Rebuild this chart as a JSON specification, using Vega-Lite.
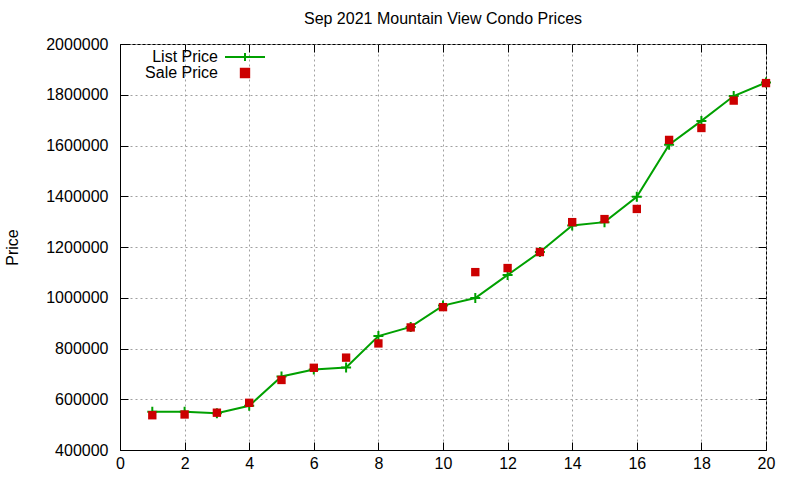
{
  "$schema": "https://vega.github.io/schema/vega-lite/v6.json",
  "description": "Sep 2021 Mountain View condo list and sale prices.",
  "width": 646,
  "height": 406,
  "autosize": "none",
  "padding": {"left": 120, "top": 44, "right": 34, "bottom": 30},
  "title": {
    "text": "Sep 2021 Mountain View Condo Prices",
    "font": "Liberation Sans",
    "fontSize": 16,
    "fontWeight": "normal",
    "color": "#000000",
    "anchor": "middle",
    "offset": 9
  },
  "data": {
    "values": [
      {"n": 1, "series": "List Price", "price": 551000},
      {"n": 2, "series": "List Price", "price": 551000},
      {"n": 3, "series": "List Price", "price": 545000},
      {"n": 4, "series": "List Price", "price": 574000},
      {"n": 5, "series": "List Price", "price": 690000},
      {"n": 6, "series": "List Price", "price": 717000},
      {"n": 7, "series": "List Price", "price": 725000},
      {"n": 8, "series": "List Price", "price": 849000},
      {"n": 9, "series": "List Price", "price": 885000},
      {"n": 10, "series": "List Price", "price": 969000},
      {"n": 11, "series": "List Price", "price": 999000},
      {"n": 12, "series": "List Price", "price": 1090000},
      {"n": 13, "series": "List Price", "price": 1180000},
      {"n": 14, "series": "List Price", "price": 1285000},
      {"n": 15, "series": "List Price", "price": 1298000},
      {"n": 16, "series": "List Price", "price": 1398000},
      {"n": 17, "series": "List Price", "price": 1603000},
      {"n": 18, "series": "List Price", "price": 1697000},
      {"n": 19, "series": "List Price", "price": 1795000},
      {"n": 20, "series": "List Price", "price": 1848000},
      {"n": 1, "series": "Sale Price", "price": 537000},
      {"n": 2, "series": "Sale Price", "price": 540000},
      {"n": 3, "series": "Sale Price", "price": 547000},
      {"n": 4, "series": "Sale Price", "price": 586000},
      {"n": 5, "series": "Sale Price", "price": 676000},
      {"n": 6, "series": "Sale Price", "price": 724000},
      {"n": 7, "series": "Sale Price", "price": 764000},
      {"n": 8, "series": "Sale Price", "price": 820000},
      {"n": 9, "series": "Sale Price", "price": 883000},
      {"n": 10, "series": "Sale Price", "price": 963000},
      {"n": 11, "series": "Sale Price", "price": 1101000},
      {"n": 12, "series": "Sale Price", "price": 1117000},
      {"n": 13, "series": "Sale Price", "price": 1180000},
      {"n": 14, "series": "Sale Price", "price": 1298000},
      {"n": 15, "series": "Sale Price", "price": 1310000},
      {"n": 16, "series": "Sale Price", "price": 1350000},
      {"n": 17, "series": "Sale Price", "price": 1622000},
      {"n": 18, "series": "Sale Price", "price": 1669000},
      {"n": 19, "series": "Sale Price", "price": 1777000},
      {"n": 20, "series": "Sale Price", "price": 1846000}
    ]
  },
  "resolve": {"axis": {"x": "independent", "y": "independent"}},
  "layer": [
    {
      "transform": [{"filter": "datum.series == 'List Price'"}],
      "mark": {"type": "line", "strokeWidth": 2},
      "encoding": {
        "x": {
          "field": "n",
          "type": "quantitative",
          "scale": {"domain": [0, 20], "nice": false, "zero": false},
          "axis": {
            "title": null,
            "values": [0, 2, 4, 6, 8, 10, 12, 14, 16, 18, 20],
            "grid": true,
            "labelFlush": false,
            "labelPadding": 13
          }
        },
        "y": {
          "field": "price",
          "type": "quantitative",
          "scale": {"domain": [400000, 2000000], "nice": false, "zero": false},
          "axis": {
            "title": "Price",
            "format": "d",
            "values": [400000, 600000, 800000, 1000000, 1200000, 1400000, 1600000, 1800000, 2000000],
            "grid": true,
            "labelFlush": false,
            "labelPadding": 20,
            "titleAngle": -90,
            "titleX": -108,
            "titleY": 203,
            "titleAlign": "center",
            "titleBaseline": "middle"
          }
        },
        "color": {
          "field": "series",
          "type": "nominal",
          "scale": {"domain": ["List Price", "Sale Price"], "range": ["#00a000", "#cc0000"]},
          "legend": {
            "title": null,
            "orient": "none",
            "legendX": 117,
            "legendY": 5,
            "labelAlign": "right",
            "labelOffset": -35,
            "symbolSize": 1600,
            "rowPadding": -1,
            "labelFont": "Liberation Sans",
            "labelFontSize": 16,
            "labelColor": "#000000",
            "encode": {
              "symbols": {
                "update": {
                  "shape": {"signal": "datum.value == 'List Price' ? 'M-1,0L1,0M0,-0.2L0,0.2' : 'square'"},
                  "size": {"signal": "datum.value == 'List Price' ? 1600 : 70"},
                  "fill": {"signal": "datum.value == 'List Price' ? 'transparent' : '#cc0000'"},
                  "stroke": {"signal": "datum.value == 'List Price' ? '#00a000' : 'transparent'"},
                  "strokeWidth": {"value": 2},
                  "opacity": {"value": 1}
                }
              }
            }
          }
        }
      }
    },
    {
      "transform": [{"filter": "datum.series == 'List Price'"}],
      "mark": {
        "type": "point",
        "shape": "M-1,0L1,0M0,-1L0,1",
        "filled": false,
        "size": 100,
        "strokeWidth": 2,
        "opacity": 1
      },
      "encoding": {
        "x": {
          "field": "n",
          "type": "quantitative",
          "axis": {"orient": "top", "title": null, "labels": false, "grid": false, "domain": false,
                   "values": [0, 2, 4, 6, 8, 10, 12, 14, 16, 18, 20]}
        },
        "y": {
          "field": "price",
          "type": "quantitative",
          "axis": {"orient": "right", "title": null, "labels": false, "grid": false, "domain": false,
                   "values": [400000, 600000, 800000, 1000000, 1200000, 1400000, 1600000, 1800000, 2000000]}
        },
        "color": {"field": "series", "type": "nominal"}
      }
    },
    {
      "transform": [{"filter": "datum.series == 'Sale Price'"}],
      "mark": {"type": "square", "size": 70, "opacity": 1},
      "encoding": {
        "x": {"field": "n", "type": "quantitative", "axis": null},
        "y": {"field": "price", "type": "quantitative", "axis": null},
        "color": {"field": "series", "type": "nominal"}
      }
    }
  ],
  "config": {
    "view": {"stroke": "#000000", "strokeWidth": 1},
    "axis": {
      "labelFont": "Liberation Sans",
      "labelFontSize": 16,
      "labelColor": "#000000",
      "titleFont": "Liberation Sans",
      "titleFontSize": 16,
      "titleFontWeight": "normal",
      "titleColor": "#000000",
      "domainColor": "#000000",
      "tickColor": "#000000",
      "tickSize": -8,
      "gridColor": "#a0a0a0",
      "gridDash": [2, 3],
      "gridWidth": 1
    }
  }
}
